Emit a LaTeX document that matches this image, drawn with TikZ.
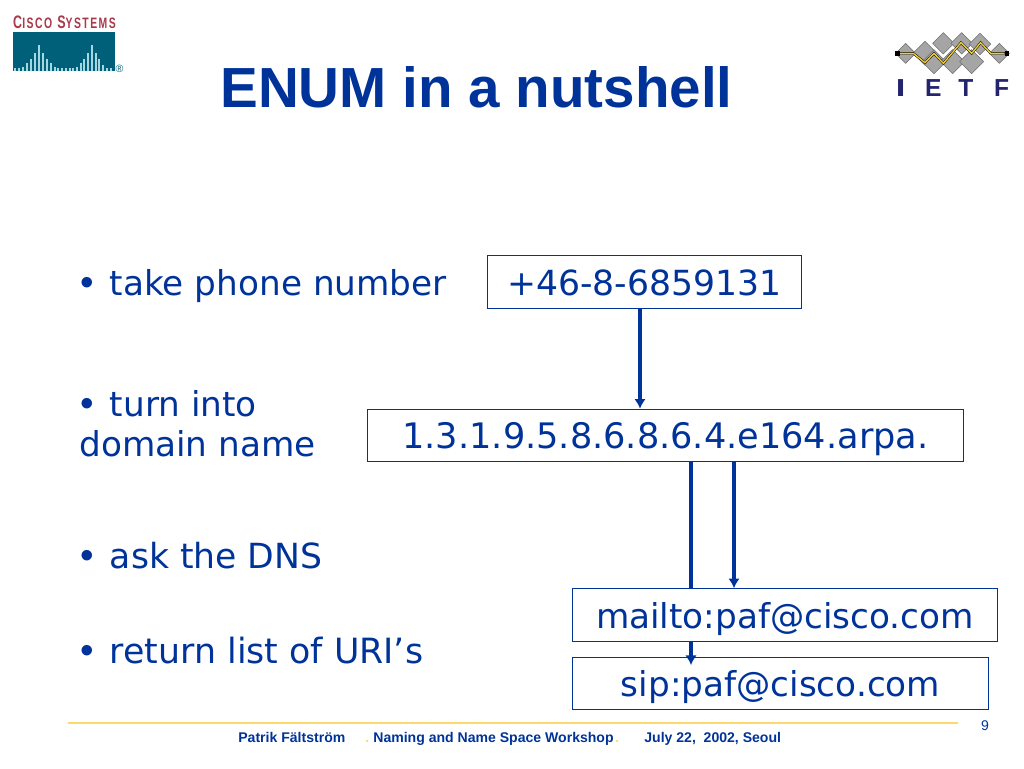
\documentclass[tikz,border=0pt]{standalone}
\usepackage{fontspec}
\setmainfont{DejaVu Sans}
\newfontfamily\arialfont{Liberation Sans}
\newfontfamily\logofont[LetterSpace=14]{Liberation Sans}
\definecolor{slideblue}{RGB}{0,51,153}
\definecolor{slidegold}{RGB}{250,218,110}
\definecolor{ciscored}{RGB}{168,58,74}
\definecolor{ciscoteal}{RGB}{0,96,122}
\definecolor{ciscobar}{RGB}{165,215,225}
\definecolor{ietfgray}{RGB}{165,165,165}
\definecolor{ietfshade}{RGB}{110,110,110}
\definecolor{ietfyellow}{RGB}{240,205,50}
\definecolor{ietfnavy}{RGB}{35,35,110}
\newcommand{\listdot}{\makebox[17.4pt][l]{\hspace{0.6pt}\arialfont\fontsize{22}{22}\selectfont •}}
\tikzset{
  listitem/.style={anchor=base west,text=slideblue,align=left,font=\fontsize{19.5}{22.7}\selectfont},
  addrbox/.style={draw=slideblue,fill=white,line width=0.55pt,text=slideblue,font=\fontsize{19.5}{22.7}\selectfont,text height=22.6pt,text depth=7.4pt},
  link/.style={draw=slideblue,line width=1.72pt,-{Latex[length=5.5pt,width=6.6pt]}},
  footer/.style={anchor=base west,text=slideblue,font=\arialfont\bfseries\fontsize{8}{9}\selectfont},
  ietfdiamond/.style={fill=ietfgray,draw=ietfshade,line width=0.3pt},
  ietfletter/.style={text=ietfnavy,xscale=1,font=\arialfont\bfseries\fontsize{14}{14}\selectfont}
}
\usetikzlibrary{arrows.meta}
\begin{document}
\begin{tikzpicture}[x=0.02cm,y=-0.02cm]
\tikzstyle{every node}+=[inner sep=0pt]
\useasboundingbox (0,0) rectangle (1024,768);
\fill [ciscoteal] (13,32) rectangle (114.5,71);
\foreach \barx/\bary in {15/68,19/68,23/67,27/63,31/59,35/53,39/45,43/53,47/59,51/63,55/67,58/68,62/68,66/68,70/68,73/68,77/67,81/63,84/59,88/53,92/45,96/53,99/59,103/65,107/68,111/68}
  \draw [ciscobar,line width=0.7pt] (\barx,\bary) -- (\barx,71);
\node (ciscologo) [anchor=base west,text=ciscored,xscale=0.69,font=\logofont\bfseries\fontsize{10.3}{11}\selectfont] at (13,28.5) {C{\fontsize{8.6}{11}\selectfont ISCO} S{\fontsize{8.6}{11}\selectfont YSTEMS}};
\node (ciscomark) [text=ciscoteal,font=\arialfont\fontsize{6}{6}\selectfont] at (119.5,68.5) {®};
\begin{scope}[shift={(860,20)},scale=0.3333]
\foreach \cx/\cy/\rd in {137/100/30,418/100/30,250/70/32,305/70/32,360/72/32,195/100/36,222/125/36,278/125/36,335/125/36}
  \draw [ietfdiamond] (\cx-\rd,\cy) -- (\cx,\cy-\rd) -- (\cx+\rd,\cy) -- (\cx,\cy+\rd) -- cycle;
\draw [black,line width=1.3pt] (112,100) -- (160,100) -- (195,128) -- (222,100) -- (250,130) -- (303,68) -- (335,100) -- (362,68) -- (392,100) -- (440,100);
\draw [ietfyellow,line width=0.8pt] (118,100) -- (160,100) -- (195,128) -- (222,100) -- (250,130) -- (303,68) -- (335,100) -- (362,68) -- (392,100) -- (434,100);
\fill [black] (106,93) rectangle (119,107);
\fill [black] (434,93) rectangle (447,107);
\node (ietfi) [ietfletter,xscale=1.4] at (122,205) {I};
\node (ietfe) [ietfletter] at (220,205) {E};
\node (ietft) [ietfletter] at (318,205) {T};
\node (ietff) [ietfletter] at (425,205) {F};
\end{scope}
\node (title) [anchor=base west,text=slideblue,font=\arialfont\bfseries\fontsize{32.2}{38}\selectfont] at (220,107) {ENUM in a nutshell};
\node (take) [listitem] at (79,295) {\listdot take phone number};
\node (turn) [listitem] at (79,456) {\listdot turn into\\domain name};
\node (ask) [listitem,font=\fontsize{19.7}{22.7}\selectfont] at (79,568) {\listdot ask the DNS};
\node (return) [listitem,font=\fontsize{19.8}{22.7}\selectfont] at (79,663) {\listdot return list of URI’s};
\node (phone) [addrbox,minimum width=178.5pt,font=\fontsize{19.7}{22.7}\selectfont] at (644.5,282) {+46-8-6859131};
\node (domain) [addrbox,minimum width=339.2pt,font=\fontsize{20}{22.7}\selectfont] at (665.5,435.5) {1.3.1.9.5.8.6.8.6.4.e164.arpa.};
\node (sip) [addrbox,minimum width=236.5pt] at (780.5,683.5) {sip:paf@cisco.com};
\coordinate (tapone) at (640,0);
\coordinate (taptwo) at (691,0);
\coordinate (tapthree) at (734,0);
\coordinate (siptip) at (691,665);
\draw [link] (phone.south -| tapone) -- (domain.north -| tapone);
\draw [link] (domain.south -| taptwo) -- (siptip);
\node (mailto) [addrbox,minimum width=241.5pt] at (785,615) {mailto:paf@cisco.com};
\draw [link] (domain.south -| tapthree) -- (mailto.north -| tapthree);
\coordinate (rulestart) at (68,723);
\coordinate (ruleend) at (958,723);
\draw [slidegold,line width=0.9pt] (rulestart) -- (ruleend);
\node (author) [footer] at (238,742) {Patrik Fältström};
\node (dotone) [footer,text=slidegold] at (365,742) {.};
\node (workshop) [footer] at (373,742) {Naming and Name Space Workshop};
\node (dottwo) [footer,text=slidegold] at (615,742) {.};
\node (date) [footer] at (644,742) {July 22,\ \ 2002, Seoul};
\node (pageno) [anchor=base,text=slideblue,font=\arialfont\fontsize{8}{9}\selectfont] at (985,730) {9};
\end{tikzpicture}
\end{document}
